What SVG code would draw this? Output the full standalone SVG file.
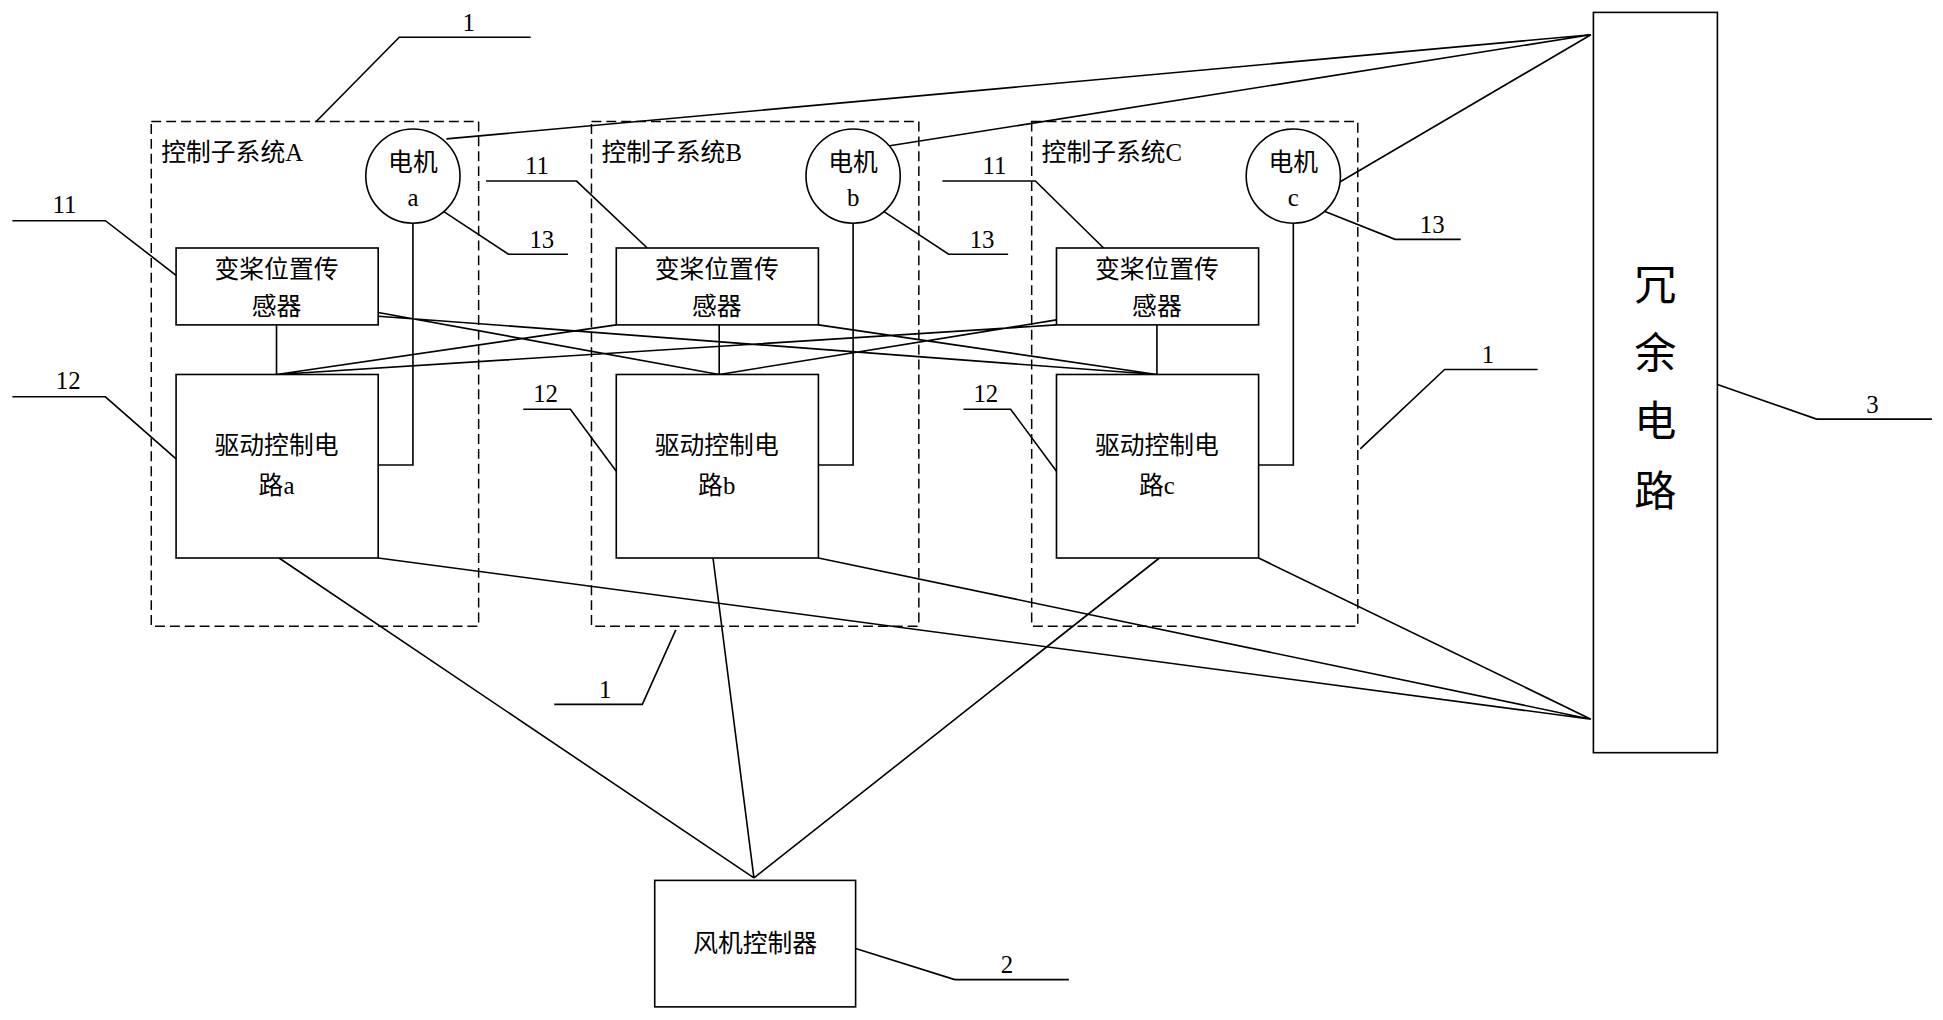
<svg xmlns="http://www.w3.org/2000/svg" width="1943" height="1020" viewBox="0 0 1943 1020">
<style>
.b{fill:#fff;stroke:#000;stroke-width:1.3}
.d{fill:none;stroke:#000;stroke-width:1.2;stroke-dasharray:8,4}
.l{fill:none;stroke:#000;stroke-width:1.3}
.t{font-family:"Liberation Serif","Noto Sans CJK SC",serif;font-size:20px;fill:#000}
.c{text-anchor:middle}
</style>
<rect width="1943" height="1020" fill="#fff"/>
<g transform="scale(1.24)">
<g id="connectors" class="l">
<path d="M333,180V375H305M688,180V375H660M1043,180V375H1015"/>
<path d="M223,262V302M580,262V302M933,262V302"/>
<path d="M305,252L580,302M305,255L933,302M497,262L223,302M660,262L933,302M852,262L223,302M852,258L580,302"/>
<path d="M360,112L1283,28M715,118L1283,28M1075,150L1283,28"/>
<path d="M305,450L1283,580M660,450L1283,580M1015,450L1283,580"/>
<path d="M225,450L608,708M575,450L608,708M935,450L608,708"/>
<path d="M255,98L322,30H428M545,508L518,568H447M1097,362L1165,298H1240"/>
<path d="M10,178H85L142,222M392,146H465L522,200M760,146H835L890,200"/>
<path d="M10,320H85L142,370M422,330H460L497,380M777,330H815L852,380"/>
<path d="M357,170L410,205H458M712,170L765,205H813M1067,170L1125,193H1178"/>
<path d="M690,765L770,790H862M1385,310L1465,338H1558"/>
</g>
<g id="subA"><rect class="d" x="122" y="98" width="264" height="407"/><text class="t" x="130" y="130">控制子系统A</text></g>
<g id="subB"><rect class="d" x="477" y="98" width="264" height="407"/><text class="t" x="485" y="130">控制子系统B</text></g>
<g id="subC"><rect class="d" x="832" y="98" width="263" height="407"/><text class="t" x="840" y="130">控制子系统C</text></g>
<g id="motorA"><circle class="b" cx="333" cy="142" r="38"/><text class="t c" x="333" y="138">电机</text><text class="t c" x="333" y="166">a</text></g>
<g id="motorB"><circle class="b" cx="688" cy="142" r="38"/><text class="t c" x="688" y="138">电机</text><text class="t c" x="688" y="166">b</text></g>
<g id="motorC"><circle class="b" cx="1043" cy="142" r="38"/><text class="t c" x="1043" y="138">电机</text><text class="t c" x="1043" y="166">c</text></g>
<g id="sensorA"><rect class="b" x="142" y="200" width="163" height="62"/><text class="t c" x="223" y="224">变桨位置传</text><text class="t c" x="223" y="254">感器</text></g>
<g id="sensorB"><rect class="b" x="497" y="200" width="163" height="62"/><text class="t c" x="578" y="224">变桨位置传</text><text class="t c" x="578" y="254">感器</text></g>
<g id="sensorC"><rect class="b" x="852" y="200" width="163" height="62"/><text class="t c" x="933" y="224">变桨位置传</text><text class="t c" x="933" y="254">感器</text></g>
<g id="driveA"><rect class="b" x="142" y="302" width="163" height="148"/><text class="t c" x="223" y="366">驱动控制电</text><text class="t c" x="223" y="398">路a</text></g>
<g id="driveB"><rect class="b" x="497" y="302" width="163" height="148"/><text class="t c" x="578" y="366">驱动控制电</text><text class="t c" x="578" y="398">路b</text></g>
<g id="driveC"><rect class="b" x="852" y="302" width="163" height="148"/><text class="t c" x="933" y="366">驱动控制电</text><text class="t c" x="933" y="398">路c</text></g>
<g id="redundant"><rect class="b" x="1285" y="10" width="100" height="597"/>
<text class="t c" x="1335" y="242" style="font-size:34px">冗</text><text class="t c" x="1335" y="297" style="font-size:34px">余</text><text class="t c" x="1335" y="352" style="font-size:34px">电</text><text class="t c" x="1335" y="408" style="font-size:34px">路</text></g>
<g id="fan"><rect class="b" x="528" y="710" width="162" height="102"/><text class="t c" x="609" y="768">风机控制器</text></g>
<g id="labels">
<text class="t c" x="378" y="25">1</text><text class="t c" x="488" y="563">1</text><text class="t c" x="1200" y="293">1</text>
<text class="t c" x="52" y="172">11</text><text class="t c" x="433" y="140">11</text><text class="t c" x="802" y="140">11</text>
<text class="t c" x="55" y="314">12</text><text class="t c" x="440" y="324">12</text><text class="t c" x="795" y="324">12</text>
<text class="t c" x="437" y="200">13</text><text class="t c" x="792" y="200">13</text><text class="t c" x="1155" y="188">13</text>
<text class="t c" x="812" y="785">2</text><text class="t c" x="1510" y="333">3</text>
</g>
</g>
</svg>
